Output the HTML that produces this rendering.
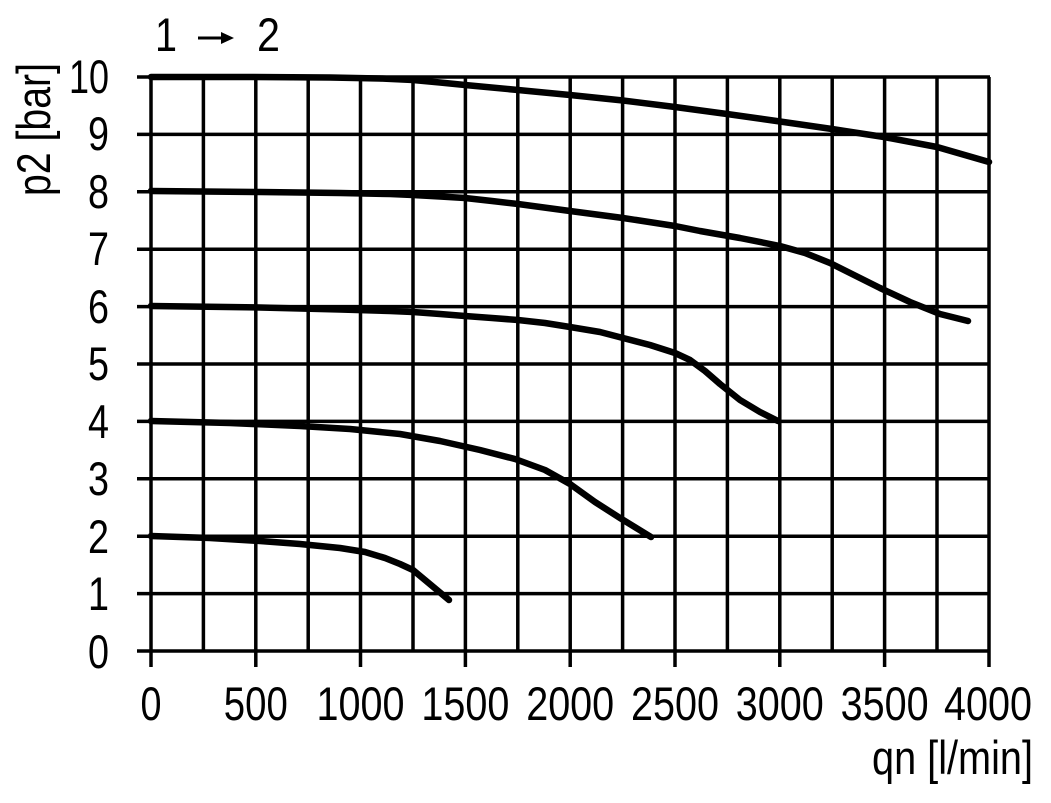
<!DOCTYPE html>
<html><head><meta charset="utf-8"><style>
html,body{margin:0;padding:0;background:#fff;}
svg{display:block;}
text{font-family:"Liberation Sans",sans-serif;font-size:47px;fill:#000;}
</style></head><body>
<svg width="1051" height="803" viewBox="0 0 1051 803" xmlns="http://www.w3.org/2000/svg">
<g stroke="#000" stroke-width="3.5" fill="none">
<path d="M137 77H990 M137 134.4H990 M137 191.8H990 M137 249.2H990 M137 306.6H990 M137 364H990 M137 421.4H990 M137 478.8H990 M137 536.2H990 M137 593.6H990 M137 651H990"/>
<path d="M151 77V667 M203.4 77V651 M255.8 77V667 M308.2 77V651 M360.5 77V667 M413 77V651 M465.4 77V667 M517.8 77V651 M570.2 77V667 M622.6 77V651 M675 77V667 M727.4 77V651 M779.8 77V667 M832.2 77V651 M884.6 77V667 M937 77V651 M989 77V667"/>
</g>
<g stroke="#000" stroke-width="6.5" fill="none" stroke-linecap="round" stroke-linejoin="round">
<polyline points="151,77 250,77 330,77.5 380,78.5 413,80 440,82.5 465,85 518,90 570,95 623,100.5 675,107 727,114 780,121.5 832,129 884,137 937,147 989,162"/>
<polyline points="151,191 260,192 340,193 390,194 413,195 440,196.5 465,198 492,201 518,204 570,211 623,218 675,226 700,231 740,238 780,246 805,253 830,263 850,273 880,288 910,302 940,314 968,321"/>
<polyline points="151,306 260,307.5 340,309.5 390,311 413,312 440,314 465,316 492,318 518,320 545,323 570,327 600,332 623,338 650,345 675,353 690,360 705,371 720,384 740,400 760,412 778,421"/>
<polyline points="151,421 230,423 300,426 350,429 400,434 440,441 480,450 515,459 545,470 570,484 595,502 620,518 651,537"/>
<polyline points="151,536 210,538 260,541 300,544 340,548 365,552 385,558 400,564 413,570 425,580 437,590 449,600"/>
</g>
<g text-anchor="end">
<text x="109" y="93" textLength="40" lengthAdjust="spacingAndGlyphs">10</text>
<text x="109" y="150" textLength="21" lengthAdjust="spacingAndGlyphs">9</text>
<text x="109" y="208" textLength="21" lengthAdjust="spacingAndGlyphs">8</text>
<text x="109" y="265" textLength="21" lengthAdjust="spacingAndGlyphs">7</text>
<text x="109" y="323" textLength="21" lengthAdjust="spacingAndGlyphs">6</text>
<text x="109" y="380" textLength="21" lengthAdjust="spacingAndGlyphs">5</text>
<text x="109" y="438" textLength="21" lengthAdjust="spacingAndGlyphs">4</text>
<text x="109" y="495" textLength="21" lengthAdjust="spacingAndGlyphs">3</text>
<text x="109" y="553" textLength="21" lengthAdjust="spacingAndGlyphs">2</text>
<text x="109" y="610" textLength="21" lengthAdjust="spacingAndGlyphs">1</text>
<text x="109" y="668" textLength="21" lengthAdjust="spacingAndGlyphs">0</text>
</g>
<g text-anchor="middle">
<text x="151" y="720" textLength="21" lengthAdjust="spacingAndGlyphs">0</text>
<text x="255.8" y="720" textLength="64" lengthAdjust="spacingAndGlyphs">500</text>
<text x="360.5" y="720" textLength="88" lengthAdjust="spacingAndGlyphs">1000</text>
<text x="465.4" y="720" textLength="88" lengthAdjust="spacingAndGlyphs">1500</text>
<text x="570.2" y="720" textLength="88" lengthAdjust="spacingAndGlyphs">2000</text>
<text x="675" y="720" textLength="88" lengthAdjust="spacingAndGlyphs">2500</text>
<text x="779.8" y="720" textLength="88" lengthAdjust="spacingAndGlyphs">3000</text>
<text x="884.6" y="720" textLength="88" lengthAdjust="spacingAndGlyphs">3500</text>
<text x="988" y="720" textLength="88" lengthAdjust="spacingAndGlyphs">4000</text>
</g>
<text x="872" y="774" textLength="161" lengthAdjust="spacingAndGlyphs">qn [l/min]</text>
<text x="155" y="51" textLength="22" lengthAdjust="spacingAndGlyphs">1</text>
<path d="M198 38H223" stroke="#000" stroke-width="3"/>
<path d="M221 32L234 38L221 44Z" fill="#000"/>
<text x="257" y="51" textLength="23" lengthAdjust="spacingAndGlyphs">2</text>
<text transform="translate(50,196) rotate(-90)" x="0" y="0" textLength="133" lengthAdjust="spacingAndGlyphs">p2 [bar]</text>
</svg>
</body></html>
